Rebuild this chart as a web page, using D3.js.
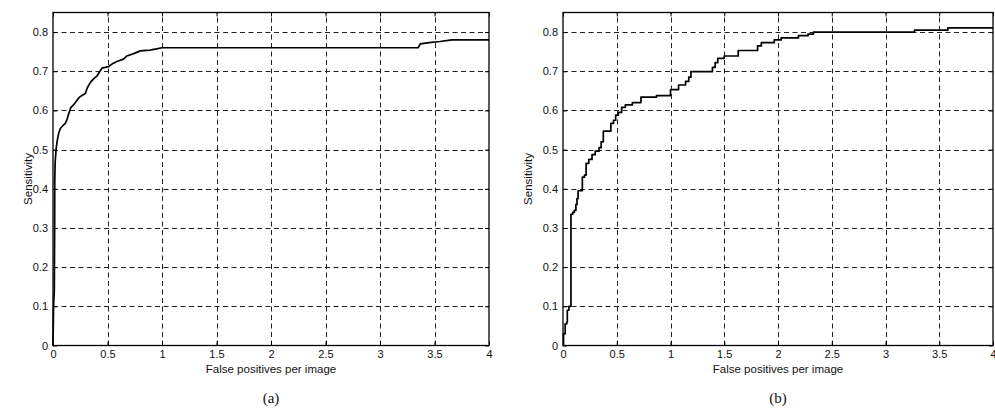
<!DOCTYPE html>
<html>
<head>
<meta charset="utf-8">
<script src="https://cdn.jsdelivr.net/npm/d3@7"></script>
<style>
  html, body { margin: 0; padding: 0; background: #fff; }
  svg { display: block; }
</style>
</head>
<body>
<svg id="chart" width="995" height="412"></svg>
<script>
// FROC curves: sensitivity vs. false positives per image
const xTicks = [0, 0.5, 1, 1.5, 2, 2.5, 3, 3.5, 4];
const yTicks = [0, 0.1, 0.2, 0.3, 0.4, 0.5, 0.6, 0.7, 0.8];
const xLabel = "False positives per image";
const yLabel = "Sensitivity";
const panelNames = ["(a)", "(b)"];

// Panel (a): smooth curve
const panelA_fp = [0, 0.005, 0.012, 0.015, 0.016, 0.02, 0.03, 0.04, 0.052, 0.067, 0.09, 0.113, 0.13, 0.14,
  0.163, 0.18, 0.2, 0.23, 0.248, 0.296, 0.315, 0.342, 0.37, 0.404, 0.43, 0.45, 0.51, 0.55, 0.586, 0.647,
  0.678, 0.74, 0.8, 0.89, 0.95, 1.0, 3.35, 3.37, 3.45, 3.55, 3.66, 4.0];
const panelA_sens = [0, 0.1, 0.14, 0.3, 0.42, 0.47, 0.505, 0.525, 0.541, 0.554, 0.561, 0.567, 0.578, 0.588,
  0.607, 0.612, 0.618, 0.63, 0.635, 0.643, 0.658, 0.671, 0.68, 0.688, 0.7, 0.708, 0.712, 0.72, 0.725, 0.731,
  0.739, 0.745, 0.752, 0.754, 0.757, 0.76, 0.76, 0.77, 0.773, 0.776, 0.78, 0.78];

// Panel (b): stepped curve (value holds until the next threshold)
const panelB_fp = [0, 0.005, 0.02, 0.035, 0.04, 0.055, 0.074, 0.09, 0.105, 0.12, 0.13, 0.14, 0.18, 0.2,
  0.215, 0.24, 0.27, 0.3, 0.335, 0.355, 0.375, 0.445, 0.47, 0.49, 0.515, 0.545, 0.58, 0.645, 0.725, 0.87,
  1.0, 1.075, 1.14, 1.17, 1.19, 1.39, 1.415, 1.44, 1.5, 1.63, 1.81, 1.845, 1.965, 2.03, 2.19, 2.28, 2.33,
  3.27, 3.58, 4.0];
const panelB_sens = [0, 0.03, 0.055, 0.06, 0.09, 0.1, 0.335, 0.34, 0.345, 0.36, 0.375, 0.395, 0.43, 0.435,
  0.465, 0.475, 0.487, 0.496, 0.505, 0.52, 0.547, 0.567, 0.575, 0.588, 0.595, 0.608, 0.614, 0.62, 0.634, 0.638,
  0.653, 0.665, 0.674, 0.685, 0.699, 0.71, 0.722, 0.733, 0.739, 0.753, 0.765, 0.773, 0.78, 0.785, 0.791, 0.795,
  0.8, 0.805, 0.811, 0.811];

const svg = d3.select("#chart");
const sansFont = "'Liberation Sans', Arial, Helvetica, sans-serif";
const serifFont = "'Liberation Serif', 'Times New Roman', serif";

function drawPanel(frame, fp, sens, curve, name) {
  const x = d3.scaleLinear().domain([0, 4]).range([frame.left, frame.right]);
  const y = d3.scaleLinear().domain([0, 0.85]).range([frame.bottom, frame.top]);
  const g = svg.append("g");

  // dashed grid
  const grid = g.append("g").attr("stroke", "#222").attr("stroke-width", 1)
    .attr("stroke-dasharray", "5,3.5").attr("fill", "none");
  xTicks.filter(t => t > 0 && t < 4).forEach(t => {
    const px = Math.round(x(t)) + 0.5;
    grid.append("line").attr("x1", px).attr("x2", px)
      .attr("y1", frame.bottom).attr("y2", frame.top);
  });
  yTicks.filter(t => t > 0).forEach(t => {
    const py = Math.round(y(t)) + 0.5;
    grid.append("line").attr("x1", frame.left).attr("x2", frame.right)
      .attr("y1", py).attr("y2", py);
  });

  // axes with inward ticks and frame box
  const xAxis = d3.axisBottom(x).tickValues(xTicks).tickSizeInner(-4).tickSizeOuter(0)
    .tickPadding(5).tickFormat(d3.format("~g"));
  const yAxis = d3.axisLeft(y).tickValues(yTicks).tickSizeInner(-4).tickSizeOuter(0)
    .tickPadding(5).tickFormat(d3.format("~g"));
  const xTop = d3.axisTop(x).tickValues(xTicks).tickSizeInner(-4).tickSizeOuter(0).tickFormat("");
  const yRight = d3.axisRight(y).tickValues(yTicks).tickSizeInner(-4).tickSizeOuter(0).tickFormat("");

  const styleAxis = sel => {
    sel.select(".domain").remove();
    sel.selectAll("line").attr("stroke", "#000");
    sel.selectAll("text").attr("fill", "#111").style("font-family", sansFont).style("font-size", "11px");
  };
  g.append("g").attr("transform", `translate(0,${frame.bottom})`).call(xAxis).call(styleAxis);
  g.append("g").attr("transform", `translate(${frame.left},0)`).call(yAxis).call(styleAxis);
  g.append("g").attr("transform", `translate(0,${frame.top})`).call(xTop).call(styleAxis);
  g.append("g").attr("transform", `translate(${frame.right},0)`).call(yRight).call(styleAxis);

  g.append("rect")
    .attr("x", frame.left).attr("y", frame.top)
    .attr("width", frame.right - frame.left).attr("height", frame.bottom - frame.top)
    .attr("fill", "none").attr("stroke", "#000").attr("stroke-width", 1.3);

  // curve
  const line = d3.line().x((d, i) => x(fp[i])).y((d, i) => y(sens[i])).curve(curve);
  g.append("path").datum(sens).attr("d", line)
    .attr("fill", "none").attr("stroke", "#000").attr("stroke-width", 1.7)
    .attr("stroke-linejoin", "round");

  // labels
  const cx = (frame.left + frame.right) / 2;
  g.append("text").attr("x", cx).attr("y", 373).attr("text-anchor", "middle")
    .style("font-family", sansFont).style("font-size", "11.5px").attr("fill", "#111").text(xLabel);
  g.append("text")
    .attr("transform", `translate(${frame.yLabelX},${(frame.top + frame.bottom) / 2}) rotate(-90)`)
    .attr("text-anchor", "middle")
    .style("font-family", sansFont).style("font-size", "11.5px").attr("fill", "#111").text(yLabel);
  g.append("text").attr("x", cx).attr("y", 403).attr("text-anchor", "middle")
    .style("font-family", serifFont).style("font-size", "15px").attr("fill", "#111").text(name);
}

drawPanel({ left: 53, right: 489, top: 12.5, bottom: 345.5, yLabelX: 32 },
  panelA_fp, panelA_sens, d3.curveLinear, panelNames[0]);
drawPanel({ left: 563, right: 993, top: 12.5, bottom: 345.5, yLabelX: 532 },
  panelB_fp, panelB_sens, d3.curveStepAfter, panelNames[1]);
</script>
</body>
</html>
